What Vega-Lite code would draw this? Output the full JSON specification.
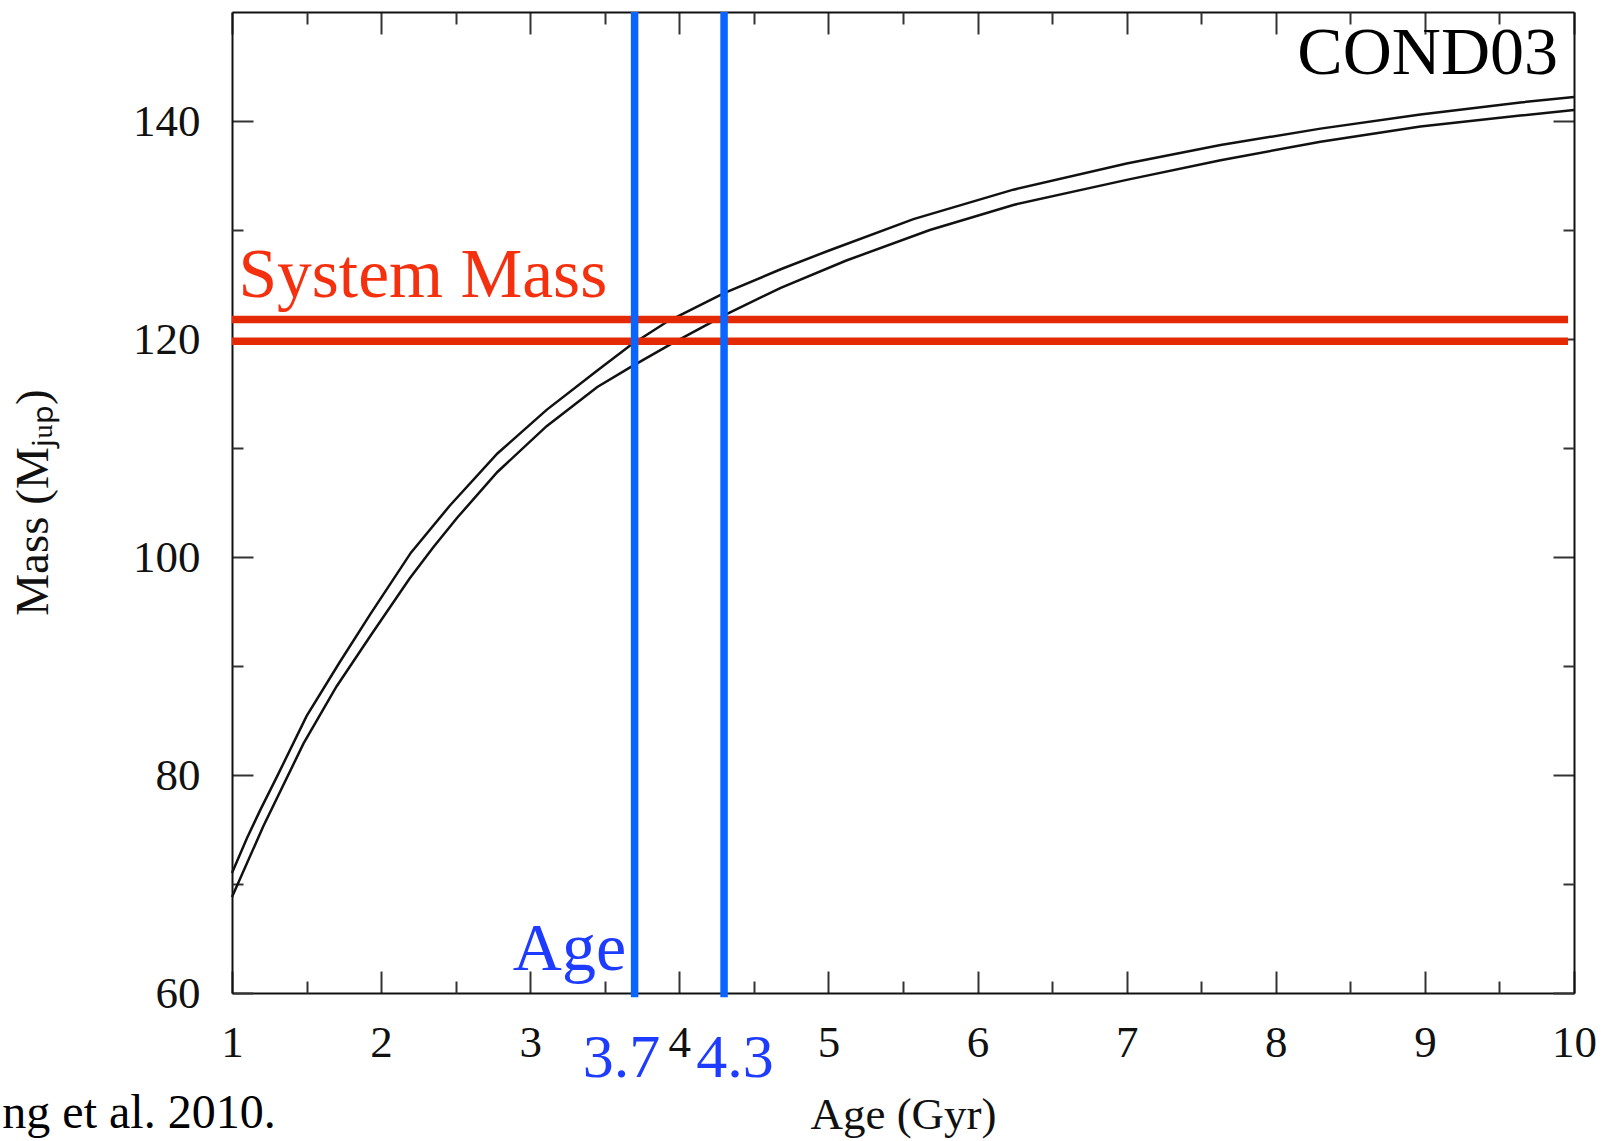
{
  "$schema": "https://vega.github.io/schema/vega-lite/v6.json",
  "width": 1342,
  "height": 981,
  "autosize": {"type": "none"},
  "padding": {"left": 232, "top": 12, "right": 40, "bottom": 148},
  "background": "white",
  "config": {
    "view": {"stroke": null},
    "font": "Liberation Serif",
    "axis": {
      "grid": false,
      "domainColor": "#111111",
      "domainWidth": 2,
      "tickColor": "#333333",
      "tickWidth": 2,
      "labelFont": "Liberation Serif",
      "labelFontSize": 45,
      "labelColor": "#111111",
      "labelFlush": false,
      "labelOverlap": false,
      "titleFont": "Liberation Serif",
      "titleFontSize": 45,
      "titleFontWeight": "normal",
      "titleColor": "#111111"
    }
  },
  "datasets": {
    "tracks": [
      {"track": "upper", "age": 1.0, "mass": 71.0},
      {"track": "upper", "age": 1.1, "mass": 74.2},
      {"track": "upper", "age": 1.19, "mass": 76.8},
      {"track": "upper", "age": 1.3, "mass": 79.8},
      {"track": "upper", "age": 1.5, "mass": 85.4},
      {"track": "upper", "age": 1.72, "mass": 90.3},
      {"track": "upper", "age": 1.93, "mass": 94.8},
      {"track": "upper", "age": 2.2, "mass": 100.4},
      {"track": "upper", "age": 2.46, "mass": 104.7},
      {"track": "upper", "age": 2.78, "mass": 109.5},
      {"track": "upper", "age": 3.11, "mass": 113.5},
      {"track": "upper", "age": 3.45, "mass": 117.1},
      {"track": "upper", "age": 3.67, "mass": 119.4},
      {"track": "upper", "age": 3.92, "mass": 121.6},
      {"track": "upper", "age": 4.3, "mass": 124.2},
      {"track": "upper", "age": 4.68, "mass": 126.4},
      {"track": "upper", "age": 5.0, "mass": 128.1},
      {"track": "upper", "age": 5.57, "mass": 131.0},
      {"track": "upper", "age": 6.24, "mass": 133.7},
      {"track": "upper", "age": 7.0, "mass": 136.1},
      {"track": "upper", "age": 7.63, "mass": 137.8},
      {"track": "upper", "age": 8.3, "mass": 139.3},
      {"track": "upper", "age": 8.97, "mass": 140.6},
      {"track": "upper", "age": 9.64, "mass": 141.7},
      {"track": "upper", "age": 10.0, "mass": 142.2},
      {"track": "lower", "age": 1.0, "mass": 68.8},
      {"track": "lower", "age": 1.21, "mass": 75.3},
      {"track": "lower", "age": 1.48, "mass": 82.9},
      {"track": "lower", "age": 1.7, "mass": 88.1},
      {"track": "lower", "age": 1.93, "mass": 92.8},
      {"track": "lower", "age": 2.19, "mass": 98.0},
      {"track": "lower", "age": 2.35, "mass": 100.9},
      {"track": "lower", "age": 2.51, "mass": 103.6},
      {"track": "lower", "age": 2.78, "mass": 107.8},
      {"track": "lower", "age": 3.11, "mass": 112.0},
      {"track": "lower", "age": 3.45, "mass": 115.6},
      {"track": "lower", "age": 3.67, "mass": 117.4},
      {"track": "lower", "age": 3.94, "mass": 119.5},
      {"track": "lower", "age": 4.32, "mass": 122.3},
      {"track": "lower", "age": 4.68, "mass": 124.7},
      {"track": "lower", "age": 5.12, "mass": 127.2},
      {"track": "lower", "age": 5.68, "mass": 130.0},
      {"track": "lower", "age": 6.24, "mass": 132.3},
      {"track": "lower", "age": 7.0, "mass": 134.6},
      {"track": "lower", "age": 7.63, "mass": 136.4},
      {"track": "lower", "age": 8.3, "mass": 138.1},
      {"track": "lower", "age": 8.97, "mass": 139.5},
      {"track": "lower", "age": 9.64, "mass": 140.5},
      {"track": "lower", "age": 10.0, "mass": 141.0}
    ],
    "system_mass": [
      {"mass": 119.8, "age_from": 1.0, "age_to": 9.96},
      {"mass": 121.8, "age_from": 1.0, "age_to": 9.96}
    ],
    "system_age": [
      {"age": 3.7, "mass_from": 59.6, "mass_to": 150},
      {"age": 4.3, "mass_from": 59.6, "mass_to": 150}
    ]
  },
  "resolve": {"axis": {"x": "independent", "y": "independent"}},
  "layer": [
    {
      "data": {"name": "tracks"},
      "mark": {"type": "line", "color": "#111111", "strokeWidth": 2.5},
      "encoding": {
        "x": {
          "field": "age", "type": "quantitative",
          "scale": {"domain": [1, 10], "nice": false, "zero": false},
          "axis": {
            "orient": "bottom", "values": [1, 2, 3, 4, 5, 6, 7, 8, 9, 10],
            "tickSize": -22, "labelPadding": 49,
            "title": "Age (Gyr)", "titleY": 99, "titleBaseline": "top"
          }
        },
        "y": {
          "field": "mass", "type": "quantitative",
          "scale": {"domain": [60, 150], "nice": false, "zero": false},
          "axis": {
            "orient": "left", "values": [60, 80, 100, 120, 140],
            "tickSize": -21, "labelPadding": 53,
            "title": "Mass (Mⱼᵤₚ)", "titleFontSize": 47, "titleX": -185, "titleY": 490,
            "titleAngle": -90, "titleBaseline": "alphabetic", "titleAlign": "center"
          }
        },
        "detail": {"field": "track"}
      }
    },
    {
      "data": {"name": "system_mass"},
      "mark": {"type": "rule", "color": "#e32a05", "strokeWidth": 7.5, "strokeCap": "butt"},
      "encoding": {
        "x": {
          "field": "age_from", "type": "quantitative",
          "scale": {"domain": [1, 10], "nice": false, "zero": false},
          "axis": {
            "orient": "bottom", "values": [1.5, 2.5, 3.5, 4.5, 5.5, 6.5, 7.5, 8.5, 9.5],
            "tickSize": -12, "labels": false, "domain": false, "title": null
          }
        },
        "x2": {"field": "age_to"},
        "y": {
          "field": "mass", "type": "quantitative",
          "scale": {"domain": [60, 150], "nice": false, "zero": false},
          "axis": {
            "orient": "left", "values": [70, 90, 110, 130],
            "tickSize": -11, "labels": false, "domain": false, "title": null
          }
        }
      }
    },
    {
      "data": {"name": "system_age"},
      "mark": {"type": "rule", "color": "#0a64ff", "strokeWidth": 7.5, "strokeCap": "butt"},
      "encoding": {
        "x": {
          "field": "age", "type": "quantitative",
          "scale": {"domain": [1, 10], "nice": false, "zero": false},
          "axis": {
            "orient": "top", "values": [1, 2, 3, 4, 5, 6, 7, 8, 9, 10],
            "tickSize": -22, "labels": false, "title": null
          }
        },
        "y": {
          "field": "mass_from", "type": "quantitative",
          "scale": {"domain": [60, 150], "nice": false, "zero": false},
          "axis": {
            "orient": "right", "values": [60, 80, 100, 120, 140],
            "tickSize": -21, "labels": false, "title": null
          }
        },
        "y2": {"field": "mass_to"}
      }
    },
    {
      "data": {"name": "system_age"},
      "transform": [{"filter": "datum.age < 4"}],
      "mark": {"type": "text", "color": "#1e3cff", "font": "Liberation Serif", "fontSize": 62, "align": "center", "baseline": "alphabetic", "dx": -13},
      "encoding": {
        "x": {
          "field": "age", "type": "quantitative",
          "scale": {"domain": [1, 10], "nice": false, "zero": false},
          "axis": {
            "orient": "top", "values": [1.5, 2.5, 3.5, 4.5, 5.5, 6.5, 7.5, 8.5, 9.5],
            "tickSize": -12, "labels": false, "domain": false, "title": null
          }
        },
        "y": {
          "datum": 52.33, "type": "quantitative",
          "scale": {"domain": [60, 150], "nice": false, "zero": false},
          "axis": {
            "orient": "right", "values": [70, 90, 110, 130],
            "tickSize": -11, "labels": false, "domain": false, "title": null
          }
        },
        "text": {"field": "age", "type": "quantitative", "format": ".1f"}
      }
    },
    {
      "data": {"name": "system_age"},
      "transform": [{"filter": "datum.age > 4"}],
      "mark": {"type": "text", "color": "#1e3cff", "font": "Liberation Serif", "fontSize": 62, "align": "center", "baseline": "alphabetic", "dx": 11},
      "encoding": {
        "x": {"field": "age", "type": "quantitative", "scale": {"domain": [1, 10], "nice": false, "zero": false}, "axis": null},
        "y": {"datum": 52.33, "type": "quantitative", "scale": {"domain": [60, 150], "nice": false, "zero": false}, "axis": null},
        "text": {"field": "age", "type": "quantitative", "format": ".1f"}
      }
    },
    {
      "data": {"values": [{"label": "Age", "age": 3.643, "mass": 62.14}]},
      "mark": {"type": "text", "color": "#1e3cff", "font": "Liberation Serif", "fontSize": 68, "align": "right", "baseline": "alphabetic"},
      "encoding": {
        "x": {"field": "age", "type": "quantitative", "scale": {"domain": [1, 10], "nice": false, "zero": false}, "axis": null},
        "y": {"field": "mass", "type": "quantitative", "scale": {"domain": [60, 150], "nice": false, "zero": false}, "axis": null},
        "text": {"field": "label"}
      }
    },
    {
      "data": {"values": [{"label": "System Mass", "age": 1.043, "mass": 123.87}]},
      "mark": {"type": "text", "color": "#f5300f", "font": "Liberation Serif", "fontSize": 69.5, "align": "left", "baseline": "alphabetic"},
      "encoding": {
        "x": {"field": "age", "type": "quantitative", "scale": {"domain": [1, 10], "nice": false, "zero": false}, "axis": null},
        "y": {"field": "mass", "type": "quantitative", "scale": {"domain": [60, 150], "nice": false, "zero": false}, "axis": null},
        "text": {"field": "label"}
      }
    },
    {
      "data": {"values": [{"label": "COND03", "age": 9.893, "mass": 144.35}]},
      "mark": {"type": "text", "color": "#000000", "font": "Liberation Serif", "fontSize": 68, "align": "right", "baseline": "alphabetic"},
      "encoding": {
        "x": {"field": "age", "type": "quantitative", "scale": {"domain": [1, 10], "nice": false, "zero": false}, "axis": null},
        "y": {"field": "mass", "type": "quantitative", "scale": {"domain": [60, 150], "nice": false, "zero": false}, "axis": null},
        "text": {"field": "label"}
      }
    },
    {
      "data": {"values": [{"label": "ng et al. 2010.", "age": -0.54, "mass": 47.65}]},
      "mark": {"type": "text", "color": "#000000", "font": "Liberation Serif", "fontSize": 48, "align": "left", "baseline": "alphabetic"},
      "encoding": {
        "x": {"field": "age", "type": "quantitative", "scale": {"domain": [1, 10], "nice": false, "zero": false}, "axis": null},
        "y": {"field": "mass", "type": "quantitative", "scale": {"domain": [60, 150], "nice": false, "zero": false}, "axis": null},
        "text": {"field": "label"}
      }
    }
  ]
}
